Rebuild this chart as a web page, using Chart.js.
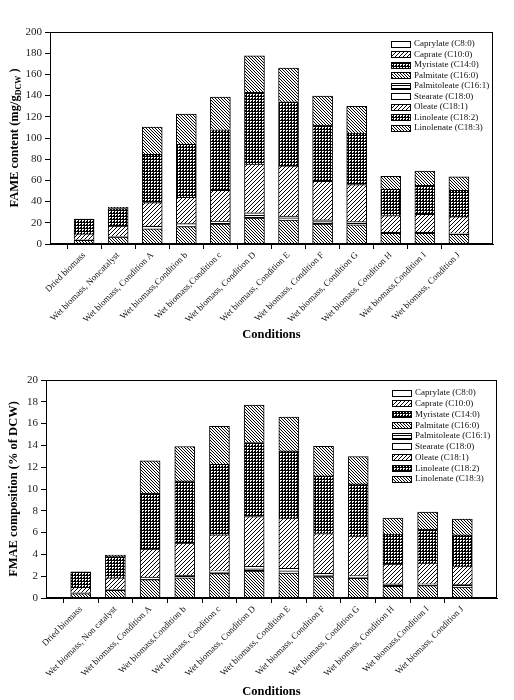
<!DOCTYPE html>
<html><head><meta charset="utf-8">
<script src="https://cdn.jsdelivr.net/npm/chart.js@4/dist/chart.umd.min.js"></script>
<style>
html,body{margin:0;padding:0;background:#fff;width:514px;height:700px;overflow:hidden}
.wrap{position:absolute;left:0;width:514px;height:350px}
canvas{display:block}
</style></head><body>
<div class="wrap" style="top:0"><canvas id="c1" width="514" height="350"></canvas></div>
<div class="wrap" style="top:350px"><canvas id="c2" width="514" height="350"></canvas></div>
<script>
// ---------- categories / labels ----------
const categories1 = ['Dried biomass','Wet biomass, Noncatalyst','Wet biomass, Condition A','Wet biomass,Condition b','Wet biomass,Condition c','Wet biomass, Condition D','Wet biomass, Condition E','Wet biomass, Condition F','Wet biomass, Condition G','Wet biomass, Condition H','Wet biomass,Condition I','Wet biomass, Condition J'];
const categories2 = ['Dried biomass','Wet biomass, Non catalyst','Wet biomass, Condition A','Wet biomass,Condition b','Wet biomass, Condition c','Wet biomass, Condition D','Wet biomass, Condition E','Wet biomass, Condition F','Wet biomass, Condition G','Wet biomass, Condition H','Wet biomass,Condition I','Wet biomass, Condition J'];
const seriesNames = ['Caprylate (C8:0)','Caprate (C10:0)','Myristate (C14:0)','Palmitate (C16:0)','Palmitoleate (C16:1)','Stearate (C18:0)','Oleate (C18:1)','Linoleate (C18:2)','Linolenate (C18:3)'];
const yTicks1 = [0,20,40,60,80,100,120,140,160,180,200];
const yTicks2 = [0,2,4,6,8,10,12,14,16,18,20];
const xTitle = 'Conditions';
const yTitle2 = 'FMAE composition (% of DCW)';

// ---------- chart 1 : FAME content (mg/g DCW) ----------
const caprylate1    = [0,0,0,0,0,0,0,0,0,0,0,0];
const caprate1      = [0,0,0,0,0,0,0,0,0,0,0,0];
const myristate1    = [0,0,0,0,0,0,0,0,0,0,0,0];
const palmitate1    = [3.5,6.5,14.2,16.4,18.9,24.5,22.6,18.9,18.0,10.0,10.0,9.1];
const palmitoleate1 = [0.5,0.5,2.8,2.8,2.8,2.5,2.0,2.3,1.5,1.3,1.3,1.3];
const stearate1     = [0,0,0,0,0,2.5,1.8,1.5,1.6,0,0,0];
const oleate1       = [5.5,10.0,22.0,24.9,29.0,45.8,47.3,36.5,34.9,15.5,16.7,15.4];
const linoleate1    = [13.8,16.5,45.7,50.1,57.0,67.7,60.5,52.9,48.6,24.9,27.4,24.9];
const linolenate1   = [0.3,1.2,25.5,28.3,30.9,34.6,31.8,27.4,25.2,12.2,13.3,12.6];

// ---------- chart 2 : FMAE composition (% of DCW) ----------
const caprylate2    = [0,0,0,0,0,0,0,0,0,0,0,0];
const caprate2      = [0,0,0,0,0,0,0,0,0,0,0,0];
const myristate2    = [0,0,0,0,0,0,0,0,0,0,0,0];
const palmitate2    = [0.4,0.7,1.68,1.86,2.23,2.47,2.29,1.95,1.8,1.07,1.13,1.0];
const palmitoleate2 = [0.08,0.1,0.24,0.24,0.15,0.2,0.2,0.15,0.12,0.24,0.18,0.22];
const stearate2     = [0,0,0,0,0.12,0.23,0.23,0.16,0.13,0,0,0];
const oleate2       = [0.5,1.05,2.57,2.94,3.3,4.58,4.61,3.66,3.63,1.8,1.89,1.71];
const linoleate2    = [1.43,1.95,5.13,5.71,6.47,6.78,6.17,5.28,4.79,2.75,3.12,2.87];
const linolenate2   = [0,0.14,2.96,3.15,3.49,3.44,3.1,2.72,2.51,1.47,1.56,1.44];

// ---------- patterns ----------
function makePattern(kind){
  const t=document.createElement('canvas');
  let n = 3;
  t.width=n; t.height=n;
  const g=t.getContext('2d');
  g.fillStyle='#fff'; g.fillRect(0,0,n,n);
  g.fillStyle='#000';
  if(kind==='back'){ for(let i=0;i<n;i++) g.fillRect(i,i,1,1); }
  else if(kind==='fwd'){ for(let i=0;i<n;i++) g.fillRect(i,n-1-i,1,1); }
  else if(kind==='dots'){ g.fillRect(0,0,n,n); g.fillStyle='#fff'; g.fillRect(1,1,1,1); g.fillRect(2,1,1,1); g.fillRect(1,2,1,1); }
  else if(kind==='horiz'){ g.fillRect(0,1,n,1); }
  return t.getContext('2d').createPattern(t,'repeat');
}
function makeFwdLight(){
  const t=document.createElement('canvas'); const n=4; t.width=n; t.height=n;
  const g=t.getContext('2d'); g.fillStyle='#fff'; g.fillRect(0,0,n,n); g.fillStyle='#000';
  for(let i=0;i<n;i++) g.fillRect(i,n-1-i,1,1);
  return g.createPattern(t,'repeat');
}
const fills = [
  '#ffffff', makeFwdLight(), makePattern('dots'), makePattern('back'),
  makePattern('horiz'), '#ffffff', makeFwdLight(), makePattern('dots'), makePattern('back')
];

const pad = a => [null, ...a, null];

function buildDatasets(seriesList){
  return seriesList.map((vals,i)=>({
    label: seriesNames[i],
    data: pad(vals),
    backgroundColor: fills[i],
    borderColor: '#000',
    borderWidth: 1,
    barThickness: 20,
    stack: 's'
  }));
}

// ---------- plugins ----------
const frame = {
  id:'frame',
  afterDraw(chart){
    const {ctx, chartArea:a} = chart;
    ctx.save(); ctx.strokeStyle='#000'; ctx.lineWidth=1;
    const l=Math.round(a.left)+0.5, r=Math.round(a.right)-0.5, t=Math.round(a.top)+0.5, b=Math.round(a.bottom)-0.5;
    ctx.strokeRect(l,t,r-l,b-t);
    ctx.restore();
  }
};
const boxLegend = {
  id:'boxLegend',
  afterDraw(chart, args, o){
    const ctx=chart.ctx;
    ctx.save();
    ctx.font='9px "Liberation Serif", serif';
    ctx.textBaseline='middle'; ctx.textAlign='left';
    chart.data.datasets.forEach((d,i)=>{
      const y = o.top + i*o.gap;
      ctx.fillStyle = d.backgroundColor;
      ctx.fillRect(o.x, Math.round(y-3.5), 20, 7);
      ctx.strokeStyle='#000'; ctx.lineWidth=1;
      ctx.strokeRect(o.x+0.5, Math.round(y-3.5)+0.5, 19, 6);
      ctx.fillStyle='#111';
      ctx.fillText(d.label, o.x+23, y);
    });
    ctx.restore();
  }
};
const yTitlePlug = {
  id:'yTitlePlug',
  afterDraw(chart, args, o){
    const {ctx, chartArea:a} = chart;
    const parts = o.parts;
    ctx.save();
    ctx.fillStyle='#000';
    ctx.textBaseline='middle'; ctx.textAlign='left';
    let w=0;
    parts.forEach(p=>{ ctx.font = p.font; w += ctx.measureText(p.text).width; });
    ctx.translate(o.x, (a.top+a.bottom)/2);
    ctx.rotate(-Math.PI/2);
    let x=-w/2;
    parts.forEach(p=>{ ctx.font=p.font; ctx.fillText(p.text, x, p.dy||0); x += ctx.measureText(p.text).width; });
    ctx.restore();
  }
};

function makeChart(id, cats, seriesList, yTicks, cfg){
  const labels = pad(cats).map(v=>v===null?'':v);
  return new Chart(document.getElementById(id), {
    type:'bar',
    data:{ labels, datasets: buildDatasets(seriesList) },
    options:{
      responsive:false, animation:false, devicePixelRatio:1,
      layout:{ padding:{ left:0, right:cfg.right, top:cfg.top, bottom:0 } },
      plugins:{
        legend:{display:false}, tooltip:{enabled:false},
        boxLegend:{ x:cfg.legX, top:cfg.legTop, gap:cfg.legGap },
        yTitlePlug:{ x:cfg.titleX, parts:cfg.titleParts }
      },
      scales:{
        x:{
          stacked:true, offset:false,
          grid:{ drawOnChartArea:false, drawTicks:true, tickLength:5,
                 color:(c)=> (c.index===0 || c.index===labels.length-1) ? 'rgba(0,0,0,0)' : '#000' },
          border:{ display:true, color:'#000', width:1 },
          ticks:{ autoSkip:false, maxRotation:45, minRotation:45, padding:1,
                  color:'#111', font:{ family:'"Liberation Serif", serif', size:9 } },
          title:{ display:true, text:xTitle, color:'#000',
                  font:{ family:'"Liberation Serif", serif', size:12.5, weight:'bold' },
                  padding:{ top:0, bottom:cfg.xTitlePadB } },
          afterFit:(s)=>{ s.height = cfg.xHeight; }
        },
        y:{
          stacked:true, min:yTicks[0], max:yTicks[yTicks.length-1],
          afterBuildTicks:(s)=>{ s.ticks = yTicks.map(v=>({value:v})); },
          grid:{ drawOnChartArea:false, drawTicks:true, tickLength:5, color:'#000' },
          border:{ display:true, color:'#000', width:1 },
          ticks:{ padding:3, color:'#222', font:{ family:'"Liberation Serif", serif', size:11 } },
          afterFit:(s)=>{ s.width = cfg.yWidth; }
        }
      }
    },
    plugins:[frame, boxLegend, yTitlePlug]
  });
}

makeChart('c1', categories1,
  [caprylate1,caprate1,myristate1,palmitate1,palmitoleate1,stearate1,oleate1,linoleate1,linolenate1],
  yTicks1,
  { right:21, top:32, xHeight:106, yWidth:50, xTitlePadB:8,
    legX:391, legTop:44, legGap:10.5, titleX:15,
    titleParts:[
      {text:'FAME content (mg/g', font:'bold 12.5px "Liberation Serif", serif'},
      {text:'DCW', font:'bold 8px "Liberation Serif", serif', dy:4},
      {text:' )', font:'bold 12.5px "Liberation Serif", serif'}
    ] });

makeChart('c2', categories2,
  [caprylate2,caprate2,myristate2,palmitate2,palmitoleate2,stearate2,oleate2,linoleate2,linolenate2],
  yTicks2,
  { right:17, top:30, xHeight:102, yWidth:46, xTitlePadB:1,
    legX:392, legTop:43, legGap:10.75, titleX:14,
    titleParts:[ {text:yTitle2, font:'bold 12.5px "Liberation Serif", serif'} ] });
</script>
</body></html>
